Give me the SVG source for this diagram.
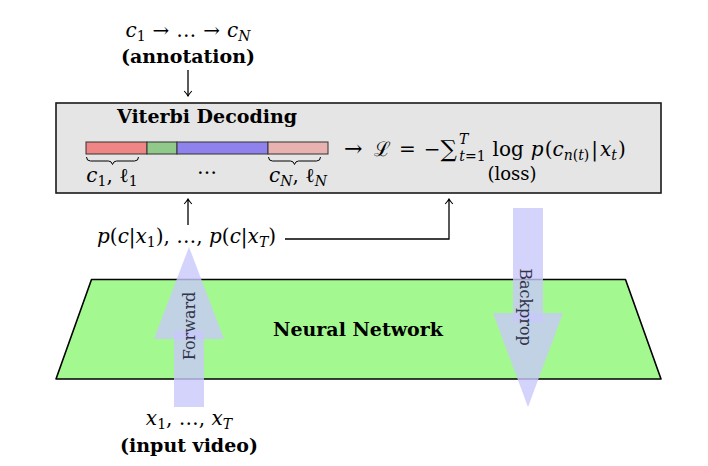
<svg xmlns="http://www.w3.org/2000/svg" width="708" height="466" viewBox="0 0 708 466">
<style>
  text { font-family: "DejaVu Serif", "Liberation Serif", serif; fill: #000; }
  .b { font-weight: bold; font-size: 19px; }
  .m { font-size: 20px; }
  .i { font-style: italic; }
  .s { font-size: 14px; }
  .conn { fill: none; stroke: #000; stroke-width: 1.3; }
  .arr { fill: #c8c8fa; opacity: 0.8; }
  .al { font-size: 16px; fill: #33334a; }
</style>
<defs>
  <marker id="ah" viewBox="-6 -5 7 10" refX="0" refY="0" markerWidth="7" markerHeight="10" markerUnits="userSpaceOnUse" orient="auto">
    <path d="M-5,-3.8 Q-1.8,-0.9 0,0 Q-1.8,0.9 -5,3.8" fill="none" stroke="#000" stroke-width="1.1"/>
  </marker>
</defs>

<!-- annotation -->
<g id="annotation">
  <text class="m" x="188" y="37" text-anchor="middle"><tspan class="i">c</tspan><tspan class="s" dy="4">1</tspan><tspan dy="-4" dx="7">→</tspan><tspan dx="7">…</tspan><tspan dx="7">→</tspan><tspan class="i" dx="7">c</tspan><tspan class="s i" dy="4">N</tspan></text>
  <text class="b" x="188" y="63" text-anchor="middle">(annotation)</text>
</g>

<!-- Viterbi box -->
<g id="viterbi">
  <rect x="56" y="103" width="605" height="90" fill="#e5e5e5" stroke="#1a1a1a" stroke-width="1.6"/>
  <text class="b" x="207" y="123" text-anchor="middle">Viterbi Decoding</text>
  <g stroke="#333" stroke-width="1">
    <rect x="86" y="142" width="61" height="12" fill="#f08585"/>
    <rect x="147" y="142" width="30" height="12" fill="#90c98a"/>
    <rect x="177" y="142" width="91" height="12" fill="#8f82ec"/>
    <rect x="268" y="142" width="60" height="12" fill="#e8b2b0"/>
  </g>
  <path d="M86.5,157 q0,4 4,4 h18 q3,0 4,3.5 q1,-3.5 4,-3.5 h18 q4,0 4,-4" fill="none" stroke="#000" stroke-width="1"/>
  <path d="M268.5,157 q0,4 4,4 h18 q3,0 4,3.5 q1,-3.5 4,-3.5 h18 q4,0 4,-4" fill="none" stroke="#000" stroke-width="1"/>
  <text class="m" x="112" y="182" text-anchor="middle"><tspan class="i">c</tspan><tspan class="s" dy="4">1</tspan><tspan dy="-4">, </tspan><tspan>ℓ</tspan><tspan class="s" dy="4">1</tspan></text>
  <text class="m" x="207" y="174" text-anchor="middle">…</text>
  <text class="m" x="298" y="182" text-anchor="middle"><tspan class="i">c</tspan><tspan class="s i" dy="4">N</tspan><tspan dy="-4">, </tspan><tspan>ℓ</tspan><tspan class="s i" dy="4">N</tspan></text>
  <text x="344" y="156" font-size="22">→</text>
  <text class="m" x="374" y="156"><tspan>ℒ</tspan><tspan dx="8">=</tspan><tspan dx="8">−</tspan><tspan font-size="23" dy="1">∑</tspan><tspan class="s i" dx="2" dy="-13">T</tspan><tspan class="s" dx="-9" dy="17"><tspan class="i">t</tspan>=1</tspan><tspan dx="7" dy="-5">log</tspan><tspan dx="7" class="i">p</tspan><tspan dx="1">(</tspan><tspan class="i">c</tspan><tspan class="s" dy="4"><tspan class="i">n</tspan>(<tspan class="i">t</tspan>)</tspan><tspan dy="-4" dx="2">|</tspan><tspan class="i" dx="2">x</tspan><tspan class="s i" dy="4">t</tspan><tspan dy="-4" dx="1">)</tspan></text>
  <text x="512" y="180" font-size="18" text-anchor="middle">(loss)</text>
</g>

<!-- Neural network -->
<g id="network">
  <polygon points="91.5,279.5 625.5,279.5 661,379 56,379" fill="#a3f98f" stroke="#000" stroke-width="1.6" stroke-linejoin="round"/>
  <text class="b" x="358" y="336" text-anchor="middle">Neural Network</text>
</g>

<!-- Forward arrow -->
<g id="forward">
  <polygon class="arr" points="154,339 224,339 189,247"/>
  <rect class="arr" x="174" y="331" width="30" height="76"/>
  <text class="al" transform="translate(195,326) rotate(-90)" text-anchor="middle">Forward</text>
</g>

<!-- Backprop arrow -->
<g id="backprop">
  <rect class="arr" x="513" y="208" width="30" height="114"/>
  <polygon class="arr" points="493,313 563,313 528,407"/>
  <text class="al" transform="translate(520,307) rotate(90)" text-anchor="middle">Backprop</text>
</g>

<!-- probabilities -->
<g id="probs">
  <text class="m" x="97" y="243"><tspan class="i">p</tspan>(<tspan class="i">c</tspan>|<tspan class="i">x</tspan><tspan class="s" dy="4">1</tspan><tspan dy="-4">), …, </tspan><tspan class="i">p</tspan>(<tspan class="i">c</tspan>|<tspan class="i">x</tspan><tspan class="s i" dy="4">T</tspan><tspan dy="-4">)</tspan></text>
</g>

<!-- input -->
<g id="input">
  <text class="m" x="189" y="425" text-anchor="middle"><tspan class="i">x</tspan><tspan class="s" dy="4">1</tspan><tspan dy="-4">, …, </tspan><tspan class="i">x</tspan><tspan class="s i" dy="4">T</tspan></text>
  <text class="b" x="189" y="452" text-anchor="middle">(input video)</text>
</g>

<!-- connectors -->
<g id="connectors">
  <path class="conn" d="M188,70 V96" marker-end="url(#ah)"/>
  <path class="conn" d="M188,225 V199" marker-end="url(#ah)"/>
  <path class="conn" d="M285,239 H449 V199" marker-end="url(#ah)"/>
</g>
</svg>
